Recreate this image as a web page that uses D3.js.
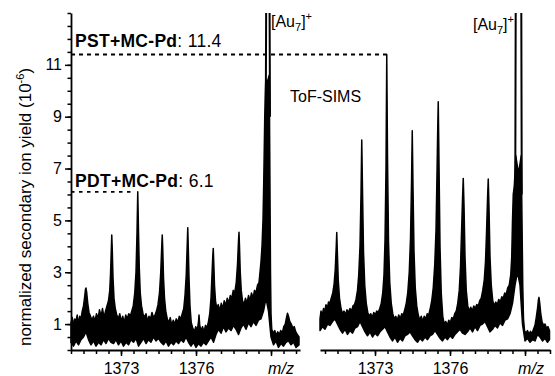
<!DOCTYPE html>
<html><head><meta charset="utf-8">
<script src="https://cdn.jsdelivr.net/npm/d3@7"></script>
<style>
body{margin:0;background:#fff;}
svg{display:block;font-family:"Liberation Sans",Arial,Helvetica,sans-serif;}
</style></head><body>
<svg id="chart" width="555" height="376"></svg>
<script>
// Annotated peak yields (10^-6)
const pstYield = 11.4;
const pdtYield = 6.1;
const pstPeakMz = 1373.47;   // right spectrum
const pdtPeakMz = 1373.67;   // left spectrum

const yTickLabels = [1, 3, 5, 7, 9, 11];
const xTickLabels = [1373, 1376];
const xMajorTicks = [1373, 1376, 1379];

// Left spectrum (PDT+MC-Pd): upper and lower edge of the noisy trace, [m/z, yield]
const leftUpper = [
  [1371.00,1.05],[1371.05,1.25],[1371.10,0.95],[1371.15,1.2],[1371.20,1.1],[1371.25,1.35],[1371.30,1.0],[1371.35,1.3],
  [1371.40,1.2],[1371.45,1.5],[1371.50,1.7],[1371.54,2.0],[1371.58,2.35],[1371.60,2.39],[1371.63,2.2],[1371.67,1.8],
  [1371.72,1.45],[1371.78,1.3],[1371.84,1.15],[1371.90,1.3],[1371.96,1.1],[1372.02,1.4],[1372.08,1.2],[1372.14,1.55],
  [1372.20,1.3],[1372.26,1.6],[1372.32,1.25],[1372.38,1.5],[1372.44,1.7],[1372.50,1.9],[1372.55,2.3],[1372.58,2.9],
  [1372.61,3.8],[1372.63,4.44],[1372.65,3.9],[1372.68,2.8],[1372.72,2.0],[1372.77,1.6],[1372.83,1.35],[1372.89,1.2],
  [1372.95,1.4],[1373.01,1.1],[1373.07,1.3],[1373.13,1.05],[1373.19,1.35],[1373.25,1.2],[1373.31,1.4],[1373.37,1.3],
  [1373.43,1.5],[1373.49,1.7],[1373.55,2.2],[1373.60,3.0],[1373.64,4.5],[pdtPeakMz,pdtYield],[1373.70,4.6],[1373.73,3.2],
  [1373.77,2.2],[1373.82,1.7],[1373.88,1.4],[1373.94,1.25],[1374.00,1.4],[1374.06,1.1],[1374.12,1.3],[1374.18,1.2],
  [1374.24,1.45],[1374.30,1.25],[1374.36,1.35],[1374.42,1.5],[1374.48,1.75],[1374.54,2.2],[1374.59,3.0],[1374.63,4.0],
  [1374.65,4.44],[1374.67,3.9],[1374.70,2.8],[1374.74,2.0],[1374.79,1.5],[1374.85,1.2],[1374.91,1.05],[1374.97,1.25],
  [1375.03,0.95],[1375.09,1.15],[1375.15,1.0],[1375.21,1.2],[1375.27,1.05],[1375.33,1.3],[1375.39,1.2],[1375.45,1.4],
  [1375.51,1.6],[1375.56,2.1],[1375.61,2.9],[1375.65,4.1],[1375.67,4.72],[1375.69,4.0],[1375.72,2.8],[1375.76,1.7],
  [1375.81,1.05],[1375.87,0.85],[1375.93,0.7],[1375.99,0.9],[1376.05,0.75],[1376.10,1.1],[1376.12,1.35],[1376.15,0.95],
  [1376.20,0.75],[1376.26,0.9],[1376.32,0.7],[1376.38,0.95],[1376.44,0.85],[1376.50,1.1],[1376.55,1.4],[1376.60,2.0],
  [1376.64,2.9],[1376.67,3.6],[1376.69,3.92],[1376.71,3.4],[1376.74,2.5],[1376.78,1.9],[1376.83,1.6],[1376.89,1.75],
  [1376.95,1.5],[1377.01,1.8],[1377.07,1.6],[1377.13,1.9],[1377.19,1.7],[1377.25,2.0],[1377.31,1.8],[1377.37,2.1],
  [1377.43,2.0],[1377.49,2.3],[1377.55,2.2],[1377.61,2.6],[1377.66,3.3],[1377.70,4.2],[1377.72,4.54],[1377.74,4.0],
  [1377.77,3.0],[1377.81,2.3],[1377.86,1.9],[1377.92,1.75],[1377.98,2.0],[1378.04,1.8],[1378.10,2.1],[1378.16,1.9],
  [1378.22,2.2],[1378.28,2.0],[1378.34,2.3],[1378.40,2.2],[1378.46,2.5],[1378.52,2.6],[1378.56,3.0],[1378.60,3.4],
  [1378.64,4.0],[1378.68,5.0],[1378.71,6.5],[1378.75,9.0],[1378.79,10.4],[1378.87,10.4],[1378.93,10.6],[1378.96,6.0],
  [1378.98,3.0],[1379.00,1.4],[1379.03,0.8],[1379.09,0.65],[1379.15,0.75],[1379.21,0.55],[1379.27,0.7],[1379.33,0.6],
  [1379.39,0.75],[1379.45,0.65],[1379.51,0.9],[1379.57,1.0],[1379.62,1.25],[1379.66,1.42],[1379.70,1.3],[1379.75,1.1],
  [1379.81,1.0],[1379.87,0.85],[1379.93,0.9],[1379.99,0.7],[1380.05,0.6],[1380.12,0.5]
];
const leftLower = [
  [1371.0,0.3],[1371.1,0.15],[1371.2,0.35],[1371.3,0.2],[1371.4,0.4],[1371.5,0.5],[1371.6,0.7],[1371.7,0.4],
  [1371.8,0.2],[1371.9,0.35],[1372.0,0.15],[1372.1,0.3],[1372.2,0.2],[1372.3,0.4],[1372.4,0.25],[1372.5,0.45],
  [1372.6,0.3],[1372.7,0.25],[1372.8,0.4],[1372.9,0.2],[1373.0,0.35],[1373.1,0.15],[1373.2,0.3],[1373.3,0.2],
  [1373.4,0.4],[1373.5,0.3],[1373.6,0.45],[1373.7,0.15],[1373.8,0.3],[1373.9,0.45],[1374.0,0.25],[1374.1,0.4],
  [1374.2,0.3],[1374.3,0.5],[1374.4,0.35],[1374.5,0.45],[1374.6,0.3],[1374.7,0.2],[1374.8,0.35],[1374.9,0.15],
  [1375.0,0.3],[1375.1,0.2],[1375.2,0.35],[1375.3,0.25],[1375.4,0.4],[1375.5,0.3],[1375.6,0.5],[1375.7,0.3],
  [1375.8,0.15],[1375.9,0.3],[1376.0,0.1],[1376.1,0.25],[1376.2,0.15],[1376.3,0.3],[1376.4,0.2],[1376.5,0.35],
  [1376.6,0.5],[1376.7,0.3],[1376.8,0.6],[1376.9,0.8],[1377.0,0.65],[1377.1,0.9],[1377.2,0.7],[1377.3,0.85],
  [1377.4,0.75],[1377.5,0.95],[1377.6,0.8],[1377.7,0.6],[1377.8,0.85],[1377.9,1.0],[1378.0,0.8],[1378.1,1.05],
  [1378.2,0.9],[1378.3,1.1],[1378.4,0.95],[1378.5,1.15],[1378.6,1.2],[1378.7,1.5],[1378.8,2.0],[1378.9,1.5],
  [1379.0,0.5],[1379.1,0.2],[1379.2,0.35],[1379.3,0.1],[1379.4,0.25],[1379.5,0.15],[1379.6,0.3],[1379.7,0.35],
  [1379.8,0.2],[1379.9,0.3],[1380.0,0.1],[1380.12,0.2]
];
// [Au7]+ apex, running off the top of the scale
const leftAu7 = [[1378.79,9],[1378.81,14],[1378.94,14],[1378.96,9]];

// Right spectrum (PST+MC-Pd)
const rightUpper = [
  [1370.80,1.2],[1370.84,1.5],[1370.89,1.35],[1370.94,1.6],[1370.99,1.5],[1371.04,1.75],[1371.09,1.6],[1371.14,1.85],
  [1371.19,1.8],[1371.25,2.0],[1371.31,2.2],[1371.36,2.5],[1371.41,3.1],[1371.45,4.0],[1371.47,4.53],[1371.49,3.9],
  [1371.53,2.7],[1371.58,2.0],[1371.64,1.6],[1371.70,1.4],[1371.76,1.5],[1371.82,1.35],[1371.88,1.55],[1371.94,1.45],
  [1372.00,1.6],[1372.06,1.5],[1372.12,1.7],[1372.18,1.75],[1372.24,1.95],[1372.30,2.3],[1372.35,2.9],[1372.40,4.0],
  [1372.44,6.0],[1372.47,8.1],[1372.50,6.2],[1372.54,3.8],[1372.59,2.5],[1372.65,1.8],[1372.71,1.45],[1372.77,1.3],
  [1372.83,1.4],[1372.89,1.25],[1372.95,1.45],[1373.01,1.35],[1373.07,1.5],[1373.13,1.45],[1373.19,1.6],[1373.25,1.8],
  [1373.31,2.2],[1373.36,2.9],[1373.40,4.2],[1373.44,7.0],[pstPeakMz,pstYield],[1373.50,7.5],[1373.54,4.2],[1373.59,2.6],
  [1373.65,1.8],[1373.71,1.4],[1373.77,1.2],[1373.83,1.3],[1373.89,1.15],[1373.95,1.35],[1374.01,1.2],[1374.07,1.4],
  [1374.13,1.35],[1374.19,1.55],[1374.25,1.8],[1374.31,2.2],[1374.37,3.0],[1374.42,4.3],[1374.46,6.4],[1374.49,8.46],
  [1374.52,6.3],[1374.56,3.8],[1374.61,2.4],[1374.67,1.7],[1374.73,1.35],[1374.79,1.15],[1374.85,1.3],[1374.91,1.1],
  [1374.97,1.3],[1375.03,1.2],[1375.09,1.4],[1375.15,1.35],[1375.21,1.6],[1375.27,1.9],[1375.33,2.4],[1375.39,3.3],
  [1375.44,4.6],[1375.48,6.8],[1375.51,8.6],[1375.53,9.58],[1375.56,7.2],[1375.60,4.0],[1375.65,2.2],[1375.71,1.3],
  [1375.77,1.0],[1375.83,1.1],[1375.89,0.95],[1375.95,1.15],[1376.01,1.05],[1376.07,1.25],[1376.13,1.2],[1376.19,1.4],
  [1376.25,1.5],[1376.31,1.8],[1376.37,2.3],[1376.42,3.2],[1376.46,4.5],[1376.50,5.8],[1376.53,6.62],[1376.56,5.6],
  [1376.60,3.6],[1376.65,2.3],[1376.71,1.7],[1376.77,1.5],[1376.83,1.65],[1376.89,1.5],[1376.95,1.7],[1377.01,1.6],
  [1377.07,1.75],[1377.13,1.7],[1377.19,1.9],[1377.25,2.0],[1377.31,2.3],[1377.37,2.7],[1377.42,3.4],[1377.46,4.5],
  [1377.50,5.8],[1377.53,6.6],[1377.56,5.5],[1377.60,3.6],[1377.65,2.5],[1377.71,1.9],[1377.77,1.7],[1377.83,1.85],
  [1377.89,1.75],[1377.95,1.95],[1378.01,1.85],[1378.07,2.05],[1378.13,2.0],[1378.19,2.2],[1378.25,2.15],[1378.31,2.4],
  [1378.37,2.5],[1378.43,2.9],[1378.47,3.6],[1378.50,5.0],[1378.53,6.0],[1378.57,6.3],[1378.61,7.0],[1378.63,7.5],
  [1378.74,6.8],[1378.85,7.5],[1378.88,5.0],[1378.91,2.5],[1378.94,1.2],[1378.98,0.75],[1379.04,0.65],[1379.10,0.75],
  [1379.16,0.6],[1379.22,0.72],[1379.28,0.62],[1379.34,0.8],[1379.40,0.95],[1379.45,1.25],[1379.50,1.6],[1379.54,1.95],
  [1379.56,2.03],[1379.59,1.8],[1379.63,1.4],[1379.68,1.1],[1379.74,0.95],[1379.80,1.0],[1379.86,0.85],[1379.92,0.9],
  [1379.98,0.75]
];
const rightLower = [
  [1370.8,0.75],[1370.9,0.9],[1371.0,0.8],[1371.1,1.0],[1371.2,0.95],[1371.3,1.1],[1371.4,1.2],[1371.5,1.0],
  [1371.6,0.8],[1371.7,0.65],[1371.8,0.8],[1371.9,0.6],[1372.0,0.75],[1372.1,0.65],[1372.2,0.85],[1372.3,0.9],
  [1372.4,1.1],[1372.5,0.9],[1372.6,0.7],[1372.7,0.55],[1372.8,0.7],[1372.9,0.5],[1373.0,0.65],[1373.1,0.55],
  [1373.2,0.7],[1373.3,0.8],[1373.4,0.9],[1373.5,0.7],[1373.6,0.5],[1373.7,0.35],[1373.8,0.5],[1373.9,0.3],
  [1374.0,0.45],[1374.1,0.35],[1374.2,0.55],[1374.3,0.6],[1374.4,0.7],[1374.5,0.55],[1374.6,0.4],[1374.7,0.3],
  [1374.8,0.45],[1374.9,0.35],[1375.0,0.5],[1375.1,0.4],[1375.2,0.55],[1375.3,0.6],[1375.4,0.75],[1375.5,0.6],
  [1375.6,0.45],[1375.7,0.35],[1375.8,0.5],[1375.9,0.4],[1376.0,0.55],[1376.1,0.45],[1376.2,0.6],[1376.3,0.7],
  [1376.4,0.8],[1376.5,0.65],[1376.6,0.6],[1376.7,0.7],[1376.8,0.85],[1376.9,0.7],[1377.0,0.9],[1377.1,0.75],
  [1377.2,0.95],[1377.3,1.0],[1377.4,1.1],[1377.5,0.9],[1377.6,0.7],[1377.7,0.8],[1377.8,0.95],[1377.9,0.85],
  [1378.0,1.05],[1378.1,0.95],[1378.2,1.15],[1378.3,1.2],[1378.4,1.4],[1378.5,1.8],[1378.6,2.5],[1378.7,3.0],
  [1378.8,2.5],[1378.9,1.0],[1379.0,0.35],[1379.1,0.45],[1379.2,0.3],[1379.3,0.4],[1379.4,0.35],[1379.5,0.6],
  [1379.6,0.5],[1379.7,0.35],[1379.8,0.45],[1379.9,0.3],[1379.98,0.4]
];
const rightAu7 = [[1378.61,6],[1378.63,14],[1378.85,14],[1378.87,6]];

const W = 555, H = 376;
const svg = d3.select("#chart");

const y = d3.scaleLinear().domain([0, 13]).range([350, 13]);
const xLeft = d3.scaleLinear().domain([1371, 1380.16]).range([71, 300]);
const xRight = d3.scaleLinear().domain([1370.8, 1380.0]).range([320, 550]);

svg.append("defs").append("clipPath").attr("id", "plotClip")
  .append("rect").attr("x", 0).attr("y", y(13)).attr("width", W).attr("height", y(0) - y(13) + 2);

function drawSpectrum(x, upper, lower, apex) {
  const line = d3.line().x(d => x(d[0])).y(d => y(d[1]));
  const g = svg.append("g").attr("clip-path", "url(#plotClip)");
  const outline = upper.concat(lower.slice().reverse());
  g.append("path").attr("d", line(outline) + "Z")
    .attr("fill", "#000").attr("stroke", "#000")
    .attr("stroke-width", 1.5).attr("stroke-linejoin", "round");
  g.append("path").attr("d", line(apex))
    .attr("fill", "none").attr("stroke", "#000").attr("stroke-width", 2);
}

drawSpectrum(xLeft, leftUpper, leftLower, leftAu7);
drawSpectrum(xRight, rightUpper, rightLower, rightAu7);

// Dashed guides to the annotated peaks
svg.append("line")
  .attr("x1", xLeft(1371)).attr("x2", xRight(pstPeakMz))
  .attr("y1", y(pstYield)).attr("y2", y(pstYield))
  .attr("stroke", "#000").attr("stroke-width", 1.8).attr("stroke-dasharray", "4,4");
svg.append("line")
  .attr("x1", xLeft(1371)).attr("x2", xLeft(pdtPeakMz) - 6)
  .attr("y1", y(pdtYield)).attr("y2", y(pdtYield))
  .attr("stroke", "#000").attr("stroke-width", 1.8).attr("stroke-dasharray", "3.5,4.5");

// Axes
function styleAxis(g) {
  g.selectAll("path.domain").attr("stroke", "#000").attr("stroke-width", 1.8);
  g.selectAll(".tick line").attr("stroke", "#000").attr("stroke-width", 1.5);
  g.selectAll(".tick text").attr("fill", "#000").style("font-size", "16px")
    .style("font-family", '"Liberation Sans",Arial,sans-serif');
}

function drawXAxis(x, d0, d1) {
  const minor = d3.range(d0, d1 + 0.001, 0.5);
  const gMinor = svg.append("g").attr("transform", "translate(0,350)")
    .call(d3.axisBottom(x).tickValues(minor).tickSize(4).tickSizeOuter(0).tickFormat(""));
  styleAxis(gMinor);
  const gMajor = svg.append("g").attr("transform", "translate(0,350)")
    .call(d3.axisBottom(x).tickValues(xMajorTicks).tickSize(6).tickSizeOuter(0)
      .tickFormat(d => xTickLabels.includes(d) ? d : ""));
  gMajor.select("path.domain").remove();
  styleAxis(gMajor);
  gMajor.selectAll(".tick text").attr("y", 24).attr("dy", 0);
}
drawXAxis(xLeft, 1371, 1380);
drawXAxis(xRight, 1371, 1380);

const gyMinor = svg.append("g").attr("transform", "translate(71,0)")
  .call(d3.axisLeft(y).tickValues(d3.range(0, 13.001, 0.5)).tickSize(3.5).tickSizeOuter(0).tickFormat(""));
styleAxis(gyMinor);
const gyMajor = svg.append("g").attr("transform", "translate(71,0)")
  .call(d3.axisLeft(y).tickValues(yTickLabels).tickSize(6).tickSizeOuter(0));
gyMajor.select("path.domain").remove();
styleAxis(gyMajor);
gyMajor.selectAll(".tick text").attr("x", -9);

// Axis titles
const yTitle = svg.append("text")
  .attr("transform", "translate(31,207) rotate(-90)")
  .attr("text-anchor", "middle").style("font-size", "17px").attr("fill", "#000");
yTitle.append("tspan").text("normalized secondary ion yield (10");
yTitle.append("tspan").attr("dy", -7).style("font-size", "11px").text("-6");
yTitle.append("tspan").attr("dy", 7).text(")");

[[xLeft, 10], [xRight, 6]].forEach(([x, off]) => {
  svg.append("text").attr("x", x(1379) + off).attr("y", 374)
    .attr("text-anchor", "middle").style("font-size", "16px").style("font-style", "italic")
    .text("m/z");
});

// Peak labels
function au7Label(xPos, yPos, anchor) {
  const t = svg.append("text").attr("x", xPos).attr("y", yPos)
    .attr("text-anchor", anchor).style("font-size", "16px").attr("fill", "#000");
  t.append("tspan").text("[Au");
  t.append("tspan").attr("dy", 4).style("font-size", "11px").text("7");
  t.append("tspan").attr("dy", -4).text("]");
  t.append("tspan").attr("dy", -7).style("font-size", "11px").text("+");
}
au7Label(271, 27, "start");
au7Label(514, 30, "end");

svg.append("text").attr("x", 290).attr("y", 101.5)
  .style("font-size", "16px").text("ToF-SIMS");

function sampleLabel(name, value, yPos) {
  const t = svg.append("text").attr("x", 75).attr("y", yPos)
    .style("font-size", "17.5px").style("letter-spacing", "0.3px");
  t.append("tspan").style("font-weight", "bold").text(name);
  t.append("tspan").text(": " + value);
}
sampleLabel("PST+MC-Pd", pstYield, 47);
sampleLabel("PDT+MC-Pd", pdtYield, 187);
</script>
</body></html>
